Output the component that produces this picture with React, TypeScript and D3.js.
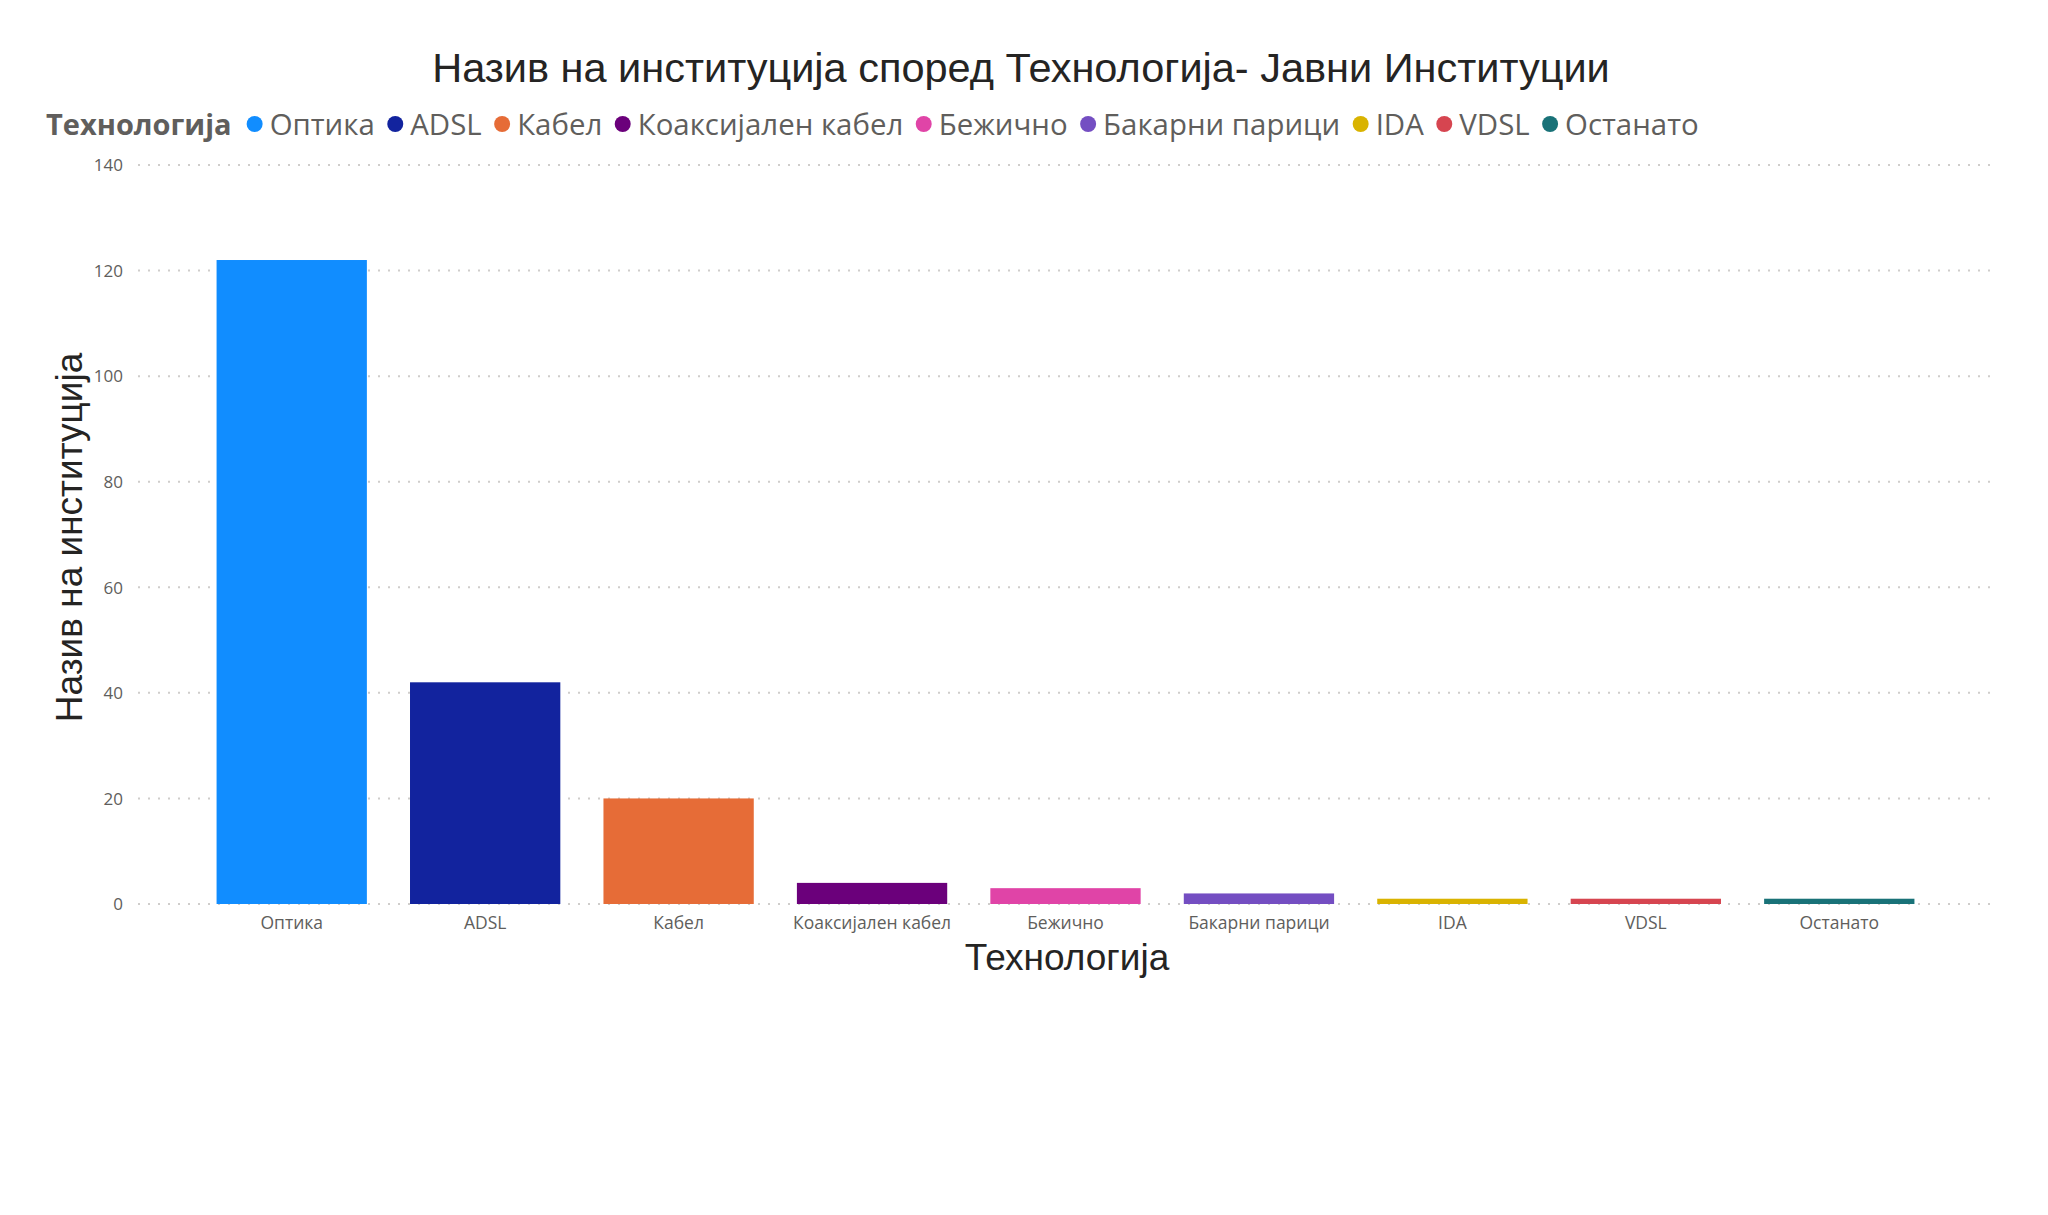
import React, { useRef, useEffect } from "react";
import * as d3 from "d3";

// Data
const categories = [
    "Оптика",
    "ADSL",
    "Кабел",
    "Коаксијален кабел",
    "Бежично",
    "Бакарни парици",
    "IDA",
    "VDSL",
    "Останато",
];
const counts = [122, 42, 20, 4, 3, 2, 1, 1, 1];
const colors = [
    "#118DFF",
    "#12239E",
    "#E66C37",
    "#6B007B",
    "#E044A7",
    "#744EC2",
    "#D9B300",
    "#D64550",
    "#197278",
];
const yTicks = [0, 20, 40, 60, 80, 100, 120, 140];

const title = "Назив на институција според Технологија- Јавни Институции";
const legendTitle = "Технологија";
const xTitle = "Технологија";
const yTitle = "Назив на институција";

const W = 2048;
const H = 1215;

export default function App() {
    const svgRef = useRef<SVGSVGElement>(null);

    useEffect(() => {
        if (!svgRef.current) return;
        const svg = d3.select(svgRef.current);
        svg.selectAll("*").remove();

        const plot = { left: 138, right: 1990, top: 165, bottom: 904 };
        const uiFont = "'Segoe UI', 'Open Sans', sans-serif";
        const arial = "'Liberation Sans', Arial, sans-serif";

        // Scales
        const x = d3.scaleBand<string>()
            .domain(categories)
            .range([195, 1936])
            .paddingInner(0.223)
            .paddingOuter(0.1115);

        const y = d3.scaleLinear()
            .domain([0, 140])
            .range([plot.bottom, plot.top]);

        // Title
        svg.append("text")
            .attr("x", 1021)
            .attr("y", 82)
            .attr("text-anchor", "middle")
            .attr("font-family", arial)
            .attr("font-size", "41.5px")
            .attr("fill", "#252423")
            .text(title);

        // Gridlines (dotted)
        const grid = svg.append("g");
        yTicks.forEach(t => {
            grid.append("line")
                .attr("x1", plot.left)
                .attr("x2", plot.right)
                .attr("y1", y(t))
                .attr("y2", y(t))
                .attr("stroke", "#CFCDCB")
                .attr("stroke-width", 2)
                .attr("stroke-dasharray", "2,8");
        });

        // Y axis labels
        svg.append("g")
            .attr("transform", `translate(${plot.left - 15},0)`)
            .call(d3.axisLeft(y).tickValues(yTicks).tickSize(0).tickPadding(0))
            .call(g => g.select(".domain").remove())
            .call(g => g.selectAll(".tick text")
                .attr("fill", "#605E5C")
                .attr("font-family", uiFont)
                .attr("font-size", "17px")
                .attr("dy", "0.34em"));

        // Bars
        svg.append("g")
            .selectAll("rect")
            .data(categories)
            .join("rect")
            .attr("x", d => x(d)!)
            .attr("width", x.bandwidth())
            .attr("y", (d, i) => y(counts[i]))
            .attr("height", (d, i) => y(0) - y(counts[i]))
            .attr("fill", (d, i) => colors[i]);

        // X axis labels
        svg.append("g")
            .attr("transform", `translate(0,${plot.bottom + 13})`)
            .call(d3.axisBottom(x).tickSize(0).tickPadding(0))
            .call(g => g.select(".domain").remove())
            .call(g => g.selectAll(".tick text")
                .attr("fill", "#605E5C")
                .attr("font-family", uiFont)
                .attr("font-size", "17.5px")
                .attr("dy", "0.71em"));

        // Axis titles
        svg.append("text")
            .attr("x", (plot.left + plot.right) / 2 + 3)
            .attr("y", 970)
            .attr("text-anchor", "middle")
            .attr("font-family", arial)
            .attr("font-size", "37px")
            .attr("fill", "#252423")
            .text(xTitle);

        svg.append("text")
            .attr("transform", `translate(82,${(plot.top + plot.bottom) / 2 + 3}) rotate(-90)`)
            .attr("text-anchor", "middle")
            .attr("font-family", arial)
            .attr("font-size", "37px")
            .attr("fill", "#252423")
            .text(yTitle);

        // Legend, laid out left to right by measured text width
        const legend = svg.append("g").attr("transform", "translate(46,135)");
        const lt = legend.append("text")
            .attr("x", 0)
            .attr("font-family", uiFont)
            .attr("font-weight", 700)
            .attr("font-size", "29px")
            .attr("fill", "#605E5C")
            .text(legendTitle);
        let cx = (lt.node() as SVGTextElement).getComputedTextLength() + 23;
        categories.forEach((c, i) => {
            legend.append("circle")
                .attr("cx", cx)
                .attr("cy", -11)
                .attr("r", 8)
                .attr("fill", colors[i]);
            const t = legend.append("text")
                .attr("x", cx + 15)
                .attr("font-family", uiFont)
                .attr("font-size", "29.4px")
                .attr("fill", "#605E5C")
                .text(c);
            cx += 15 + (t.node() as SVGTextElement).getComputedTextLength() + 20.5;
        });
    }, []);

    return (
        <svg
            ref={svgRef}
            width={W}
            height={H}
            style={{ position: "absolute", left: 0, top: 0, background: "#fff" }}
        />
    );
}
